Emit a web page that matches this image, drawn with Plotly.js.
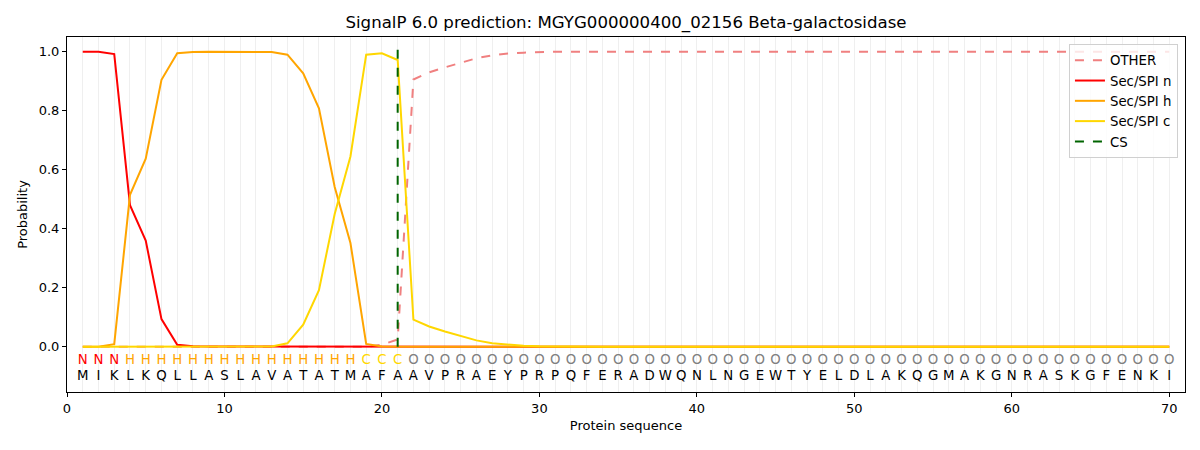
<!DOCTYPE html>
<html>
<head>
<meta charset="utf-8">
<script src="https://cdn.plot.ly/plotly-3.0.1.min.js"></script>
<style>
  body { margin: 0; background: #fff; }
  #plot { width: 1200px; height: 450px; }
</style>
</head>
<body>
<div id="plot"></div>
<script>
// residues of the sequence, one letter each
var sequence = 'MIKLKQLLASLAVATATMAFAAVPRAEYPRPQFERADWQNLNGEWTYELDLAKQGMAKGNRASKGFENKI'.split('');
// predicted region per residue
var regions = 'NNNHHHHHHHHHHHHHHHCCCOOOOOOOOOOOOOOOOOOOOOOOOOOOOOOOOOOOOOOOOOOOOOOOOO'.split('');
var positions = sequence.map(function (s, i) { return i + 1; });

var probOther = [0, 0, 0, 0, 0, 0, 0, 0, 0, 0,
    0, 0, 0, 0, 0, 0, 0, 0, 0, 0.007,
    0.025, 0.906, 0.93, 0.947, 0.963, 0.978, 0.988, 0.994, 0.997, 0.999,
    1, 1, 1, 1, 1, 1, 1, 1, 1, 1,
    1, 1, 1, 1, 1, 1, 1, 1, 1, 1,
    1, 1, 1, 1, 1, 1, 1, 1, 1, 1,
    1, 1, 1, 1, 1, 1, 1, 1, 1, 1];
var probN = [1, 1, 0.992, 0.48, 0.36, 0.094, 0.007, 0.002, 0.001, 0.001,
    0.001, 0.001, 0.001, 0.001, 0.001, 0.001, 0.001, 0.001, 0.001, 0,
    0, 0, 0, 0, 0, 0, 0, 0, 0, 0,
    0, 0, 0, 0, 0, 0, 0, 0, 0, 0,
    0, 0, 0, 0, 0, 0, 0, 0, 0, 0,
    0, 0, 0, 0, 0, 0, 0, 0, 0, 0,
    0, 0, 0, 0, 0, 0, 0, 0, 0, 0];
var probH = [0, 0, 0.009, 0.515, 0.638, 0.905, 0.995, 0.999, 1, 1,
    1, 1, 0.999, 0.99, 0.927, 0.808, 0.542, 0.352, 0.01, 0.001,
    0, 0, 0, 0, 0, 0, 0, 0, 0, 0,
    0, 0, 0, 0, 0, 0, 0, 0, 0, 0,
    0, 0, 0, 0, 0, 0, 0, 0, 0, 0,
    0, 0, 0, 0, 0, 0, 0, 0, 0, 0,
    0, 0, 0, 0, 0, 0, 0, 0, 0, 0];
var probC = [0, 0, 0, 0, 0, 0, 0, 0, 0, 0,
    0, 0, 0.001, 0.012, 0.075, 0.192, 0.45, 0.645, 0.99, 0.995,
    0.972, 0.092, 0.069, 0.052, 0.037, 0.022, 0.012, 0.007, 0.004, 0.002,
    0.001, 0, 0, 0, 0, 0, 0, 0, 0, 0,
    0, 0, 0, 0, 0, 0, 0, 0, 0, 0,
    0, 0, 0, 0, 0, 0, 0, 0, 0, 0,
    0, 0, 0, 0, 0, 0, 0, 0, 0, 0];
var csPos = 21;
var regionColors = { N: '#ff0000', H: '#ffa500', C: '#ffd700', O: '#808080' };

var lineTrace = function (y, name, color, dash) {
    return {
        x: positions, y: y, name: name, type: 'scatter', mode: 'lines',
        line: { color: color, width: 2, dash: dash || 'solid' }
    };
};

var data = [
    lineTrace(probOther, 'OTHER', '#f08080', 'dash'),
    lineTrace(probN, 'Sec/SPI n', '#ff0000'),
    lineTrace(probH, 'Sec/SPI h', '#ffa500'),
    lineTrace(probC, 'Sec/SPI c', '#ffd700'),
    {
        x: [csPos, csPos], y: [0, 1.035], name: 'CS', type: 'scatter', mode: 'lines',
        line: { color: '#006400', width: 2, dash: 'dash' }
    },
    {
        x: positions, y: positions.map(function () { return -0.047; }),
        text: regions, type: 'scatter', mode: 'text', showlegend: false, hoverinfo: 'skip',
        xaxis: 'x2',
        textfont: { family: 'DejaVu Sans', size: 13.3, color: regions.map(function (r) { return regionColors[r]; }) }
    },
    {
        x: positions, y: positions.map(function () { return -0.1; }),
        text: sequence, type: 'scatter', mode: 'text', showlegend: false, hoverinfo: 'skip',
        xaxis: 'x2',
        textfont: { family: 'DejaVu Sans', size: 13.3, color: '#000000' }
    }
];

var layout = {
    width: 1200, height: 450,
    margin: { l: 67, r: 15, t: 37, b: 58 },
    paper_bgcolor: '#ffffff', plot_bgcolor: '#ffffff',
    font: { family: 'DejaVu Sans', size: 13, color: '#000000' },
    title: {
        text: 'SignalP 6.0 prediction: MGYG000000400_02156 Beta-galactosidase',
        font: { size: 16.6 }, xref: 'paper', x: 0.5, xanchor: 'center', y: 0.95, yanchor: 'middle'
    },
    xaxis: {
        range: [0, 71], tickvals: [0, 10, 20, 30, 40, 50, 60, 70],
        showgrid: false, zeroline: false, showline: true, mirror: true, linecolor: '#000', linewidth: 1,
        ticks: 'outside', ticklen: 4, tickcolor: '#000',
        title: { text: 'Protein sequence', font: { size: 13 }, standoff: 6 }
    },
    xaxis2: {
        range: [0, 71], overlaying: 'x', tickvals: positions, showticklabels: false,
        showgrid: true, gridcolor: '#efefef', gridwidth: 1, zeroline: false, ticks: '', showline: false
    },
    yaxis: {
        range: [-0.153, 1.05], tickvals: [0, 0.2, 0.4, 0.6, 0.8, 1.0], tickformat: '.1f',
        showgrid: false, zeroline: false, showline: true, mirror: true, linecolor: '#000', linewidth: 1,
        ticks: 'outside', ticklen: 4, tickcolor: '#000',
        title: { text: 'Probability', font: { size: 13 }, standoff: 8 }
    },
    legend: {
        x: 0.9937, y: 0.98, xanchor: 'right', yanchor: 'top',
        bgcolor: 'rgba(255,255,255,0.8)', bordercolor: '#d0d0d0', borderwidth: 1,
        font: { size: 13.3 }, tracegroupgap: 2
    },
    showlegend: true
};

Plotly.newPlot('plot', data, layout, { staticPlot: true });
</script>
</body>
</html>
